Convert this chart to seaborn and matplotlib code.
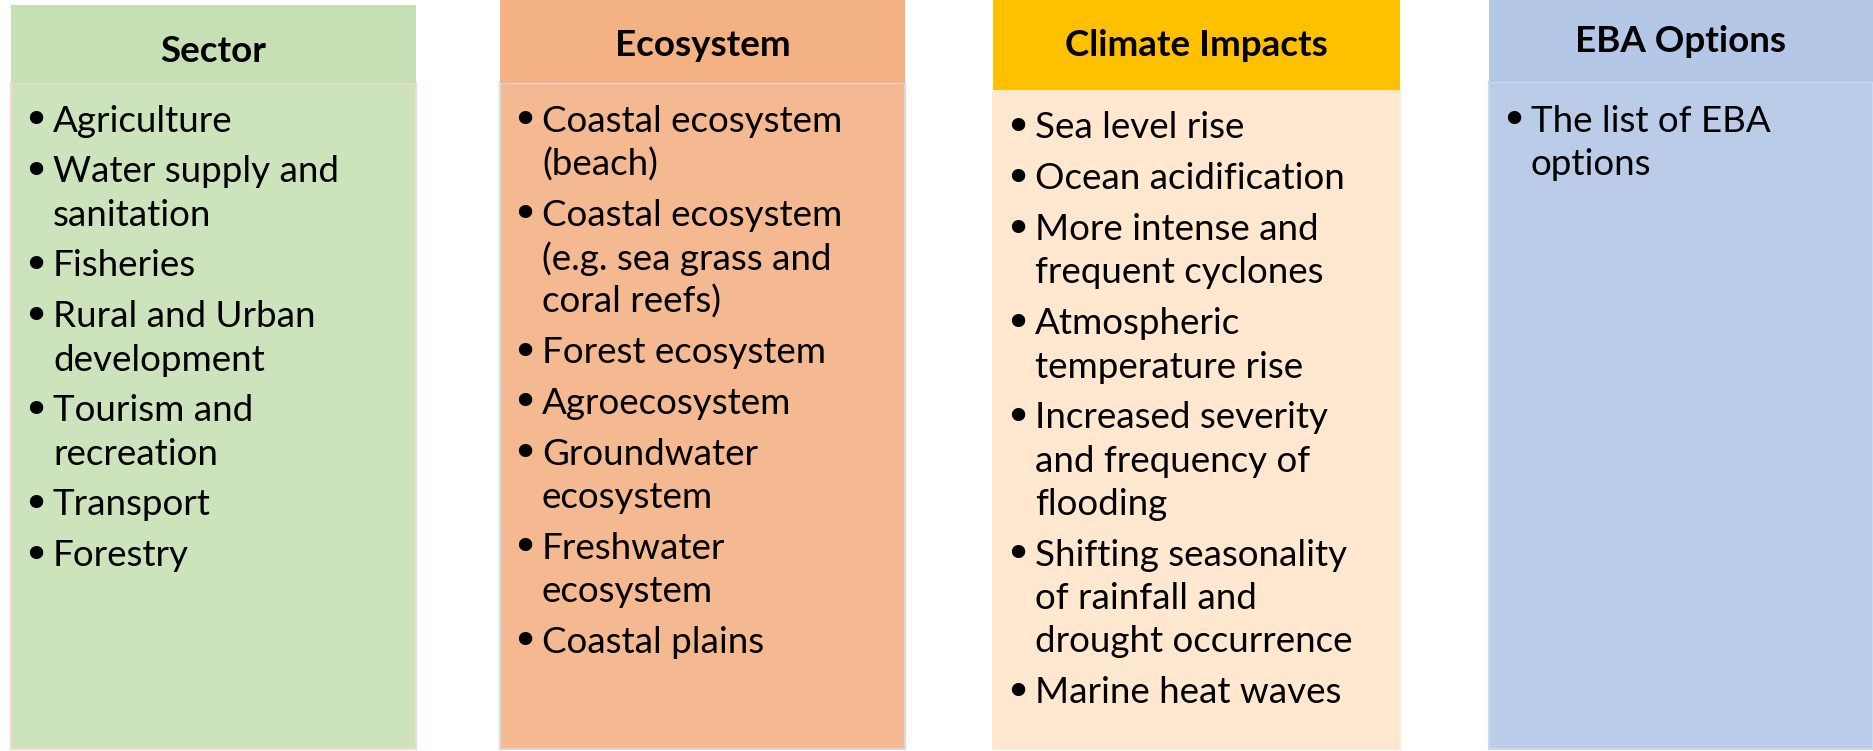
import matplotlib
matplotlib.use("Agg")
import matplotlib.pyplot as plt
from matplotlib.patches import Rectangle
import seaborn as sns

# ---- content ----
headers = ["Sector", "Ecosystem", "Climate Impacts", "EBA Options"]

sector_items = [
    ["Agriculture"],
    ["Water supply and", "sanitation"],
    ["Fisheries"],
    ["Rural and Urban", "development"],
    ["Tourism and", "recreation"],
    ["Transport"],
    ["Forestry"],
]
ecosystem_items = [
    ["Coastal ecosystem", "(beach)"],
    ["Coastal ecosystem", "(e.g. sea grass and", "coral reefs)"],
    ["Forest ecosystem"],
    ["Agroecosystem"],
    ["Groundwater", "ecosystem"],
    ["Freshwater", "ecosystem"],
    ["Coastal plains"],
]
climate_items = [
    ["Sea level rise"],
    ["Ocean acidification"],
    ["More intense and", "frequent cyclones"],
    ["Atmospheric", "temperature rise"],
    ["Increased severity", "and frequency of", "flooding"],
    ["Shifting seasonality", "of rainfall and", "drought occurrence"],
    ["Marine heat waves"],
]
eba_items = [
    ["The list of EBA", "options"],
]
column_items = [sector_items, ecosystem_items, climate_items, eba_items]

# ---- styles / layout ----
header_colors = ["#C5E0B4", "#F4B183", "#FFC000", "#B4C7E7"]
body_colors = ["#CDE3BC", "#F4B990", "#FFE8CF", "#BBCCE8"]
border_colors = ["#F6D8CC", "#D9D9D9", "#FFE8CF", "#CCD8EC"]
col_x0 = [11, 500, 993, 1489]
col_x1 = [416, 905, 1400, 1873]
header_top = [5, 0, 0, 0]
header_bot = [83, 83, 90, 82]
header_text_y = [51, 45, 45, 41]
body_start_y = [121, 121, 128, 121]
bullet_dx = 25
text_dx = 42

W, H = 1873, 751
sns.set_theme(style="white")
plt.rcParams["font.family"] = ["Lato", "DejaVu Sans"]

fig = plt.figure(figsize=(W / 100, H / 100), dpi=100)
ax = fig.add_axes([0, 0, 1, 1])
ax.set_xlim(0, W)
ax.set_ylim(H, 0)
ax.axis("off")

LINE = 43.3
GAP = 7.5
FS = 26.5

for i in range(4):
    x0, x1 = col_x0[i], col_x1[i]
    # body
    ax.add_patch(Rectangle((x0, header_bot[i]), x1 - x0, 749 - header_bot[i],
                           facecolor=body_colors[i], edgecolor=border_colors[i],
                           linewidth=1.6, zorder=1))
    # header
    ax.add_patch(Rectangle((x0, header_top[i]), x1 - x0, header_bot[i] - header_top[i],
                           facecolor=header_colors[i], edgecolor="none", zorder=2))
    ax.text((x0 + x1) / 2, header_text_y[i], headers[i], ha="center", va="center",
            fontsize=FS, fontweight="bold", color="black", zorder=3)
    y = body_start_y[i]
    for item in column_items[i]:
        ax.text(x0 + bullet_dx, y + 1.5, "\u2022", ha="center", va="center",
                fontsize=FS * 1.25, color="black", zorder=3,
                family="DejaVu Sans")
        for line in item:
            ax.text(x0 + text_dx, y, line, ha="left", va="center",
                    fontsize=FS, color="black", zorder=3)
            y += LINE
        y += GAP

fig.savefig("out.png", dpi=100, facecolor="white")
